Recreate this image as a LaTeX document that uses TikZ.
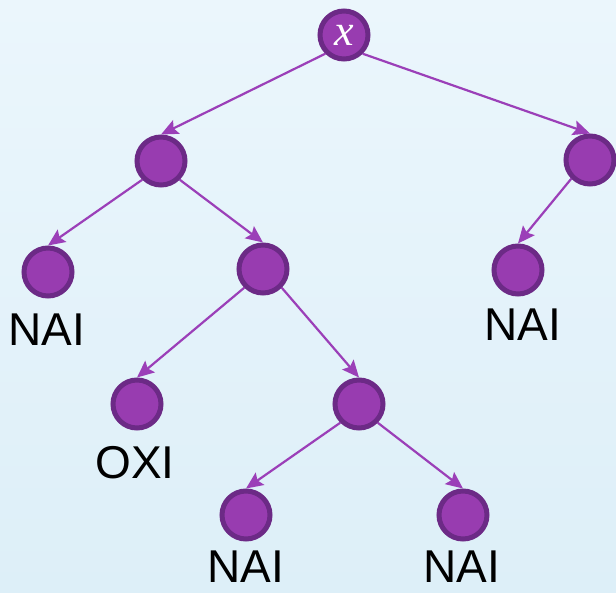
\documentclass[tikz,border=0pt]{standalone}
\usepackage{fontspec}
\setmainfont{Liberation Sans}
\newfontfamily\xserif{Liberation Serif}
\usetikzlibrary{arrows.meta}
\definecolor{nodefill}{HTML}{983CB0}
\definecolor{nodeline}{HTML}{6C2A86}
\definecolor{edgecol}{HTML}{9B3FB8}
\definecolor{bgtop}{HTML}{EBF6FC}
\definecolor{bgbot}{HTML}{DDEFF8}
\tikzset{
  treenode/.style={circle, fill=nodefill, draw=nodeline, line width=5pt, minimum size=48pt, inner sep=0pt},
  edge/.style={draw=edgecol, line width=2.2pt, -{Stealth[length=17pt,width=15pt,inset=3pt]}},
  leaflabel/.style={font=\fontsize{46pt}{46pt}\selectfont, text=black, inner sep=0pt}
}
\begin{document}
\begin{tikzpicture}[x=1pt,y=-1pt]
\useasboundingbox (0,0) rectangle (616,593);
\shade[top color=bgtop, bottom color=bgbot] (0,0) rectangle (616,593);
\node[treenode] (r) at (344,35) {\textcolor{white}{\xserif\itshape\fontsize{44pt}{44pt}\selectfont x}};
\node[treenode] (a) at (161,161) {};
\node[treenode] (b) at (590,160) {};
\node[treenode] (c) at (48,272) {};
\node[treenode] (d) at (263,269) {};
\node[treenode] (e) at (518,270) {};
\node[treenode] (f) at (137,404) {};
\node[treenode] (g) at (359,404) {};
\node[treenode] (h) at (246,515) {};
\node[treenode] (i) at (463,515) {};
\node[leaflabel] (lc) at (47,330) {NAI};
\node[leaflabel] (le) at (523,325) {NAI};
\node[leaflabel] (lf) at (135,463) {OXI};
\node[leaflabel] (lh) at (246,567) {NAI};
\node[leaflabel] (li) at (462,567) {NAI};
\draw[edge] (r.south west) -- (a.north);
\draw[edge] (r.south east) -- (b.north);
\draw[edge] (a.south west) -- (c.north);
\draw[edge] (a.south east) -- (d.north);
\draw[edge] (b.south west) -- (e.north);
\draw[edge] (d.south west) -- (f.north);
\draw[edge] (d.south east) -- (g.north);
\draw[edge] (g.south west) -- (h.north);
\draw[edge] (g.south east) -- (i.north);
\end{tikzpicture}
\end{document}
